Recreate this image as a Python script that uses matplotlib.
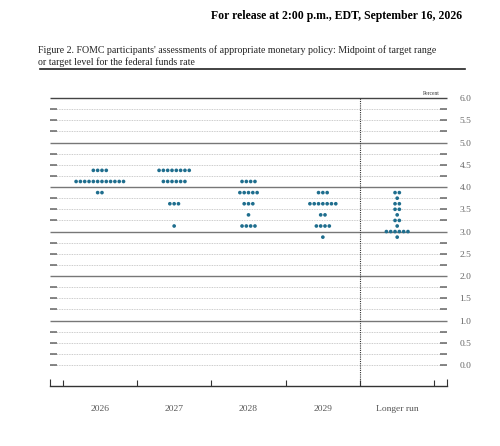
import matplotlib
matplotlib.use('Agg')
import matplotlib.pyplot as plt
from matplotlib.lines import Line2D
import numpy as np

plt.rcParams['font.family'] = ['Liberation Serif', 'DejaVu Serif']

years = ['2026', '2027', '2028', '2029', 'Longer run']

# midpoint levels and number of participants at each level
rates_2026 = [4.375, 4.125, 3.875]
counts_2026 = [4, 12, 2]
rates_2027 = [4.375, 4.125, 3.625, 3.125]
counts_2027 = [8, 6, 3, 1]
rates_2028 = [4.125, 3.875, 3.625, 3.375, 3.125]
counts_2028 = [4, 5, 3, 1, 4]
rates_2029 = [3.875, 3.625, 3.375, 3.125, 2.875]
counts_2029 = [3, 7, 2, 4, 1]
rates_lr = [3.875, 3.75, 3.625, 3.5, 3.375, 3.25, 3.125, 3.0, 2.875]
counts_lr = [2, 1, 2, 2, 1, 2, 1, 6, 1]

all_rates = [rates_2026, rates_2027, rates_2028, rates_2029, rates_lr]
all_counts = [counts_2026, counts_2027, counts_2028, counts_2029, counts_lr]

dot_color = '#1f6e8e'

fig = plt.figure(figsize=(5.0, 4.46), dpi=100)
ax = fig.add_axes([0.1, 0.1345, 0.794, 0.6457])

x0, x1 = 0.33, 5.67
y0, y1 = -0.47, 6.0
ax.set_xlim(x0, x1)
ax.set_ylim(y0, y1)

levels = np.arange(0, 6.01, 0.25)
dash = 0.094
for lv in levels:
    if abs(lv - round(lv)) < 1e-9 and lv > 0:
        ax.hlines(lv, x0, x1, color='#444444' if lv == 6.0 else '#777777',
                  lw=1.0, clip_on=False, zorder=2)
    else:
        ax.hlines(lv, x0, x1, color='#bbbbbb', lw=0.6, linestyles=(0, (1, 1)), zorder=1)
        ax.hlines(lv, x0, x0 + dash, color='#666666', lw=1.1, zorder=2)
        ax.hlines(lv, x1 - dash, x1, color='#666666', lw=1.1, zorder=2)

# separator before longer run
ax.vlines(4.5, y0, y1, color='#333333', lw=0.8, linestyles=(0, (1, 1)), zorder=2)

# dots
spacing = 0.058
for i, (rates, counts) in enumerate(zip(all_rates, all_counts)):
    cx = i + 1
    for r, n in zip(rates, counts):
        xs = cx + (np.arange(n) - (n - 1) / 2) * spacing
        ax.scatter(xs, [r] * n, s=7, color=dot_color, edgecolors='none', zorder=3)

for s in ['top', 'left', 'right']:
    ax.spines[s].set_visible(False)
ax.spines['bottom'].set_color('#333333')
ax.spines['bottom'].set_linewidth(1.0)

ax.set_xticks(range(1, 6))
ax.set_xticklabels(years, fontsize=6.8, color='#555555')
ax.tick_params(axis='x', which='major', length=0, pad=14)
ax.set_xticks(np.arange(0.5, 5.6, 1.0), minor=True)
ax.tick_params(axis='x', which='minor', direction='in', length=4, width=0.8, color='#333333')
ax.vlines([x0, x1], y0, y0 + 0.16, color='#333333', lw=0.8, clip_on=False)

ax.yaxis.tick_right()
ax.set_yticks(np.arange(0, 6.01, 0.5))
ax.set_yticklabels(['%.1f' % v for v in np.arange(0, 6.01, 0.5)], fontsize=6.8, color='#666666')
ax.tick_params(axis='y', length=0, pad=9)

ax.text(x1 - 0.1, 6.05, 'Percent', fontsize=4, ha='right', va='bottom', color='#333333')

fig.text(0.924, 0.965, 'For release at 2:00 p.m., EDT, September 16, 2026',
         fontsize=8.5, fontweight='bold', ha='right', va='center')
fig.text(0.076, 0.888, "Figure 2. FOMC participants' assessments of appropriate monetary policy: Midpoint of target range",
         fontsize=7.1, ha='left', va='center', color='#222222')
fig.text(0.076, 0.861, 'or target level for the federal funds rate',
         fontsize=7.1, ha='left', va='center', color='#222222')
fig.add_artist(Line2D([0.08, 0.93], [0.845, 0.845], color='#222222', lw=1.2))

fig.savefig('out.png', dpi=100)
